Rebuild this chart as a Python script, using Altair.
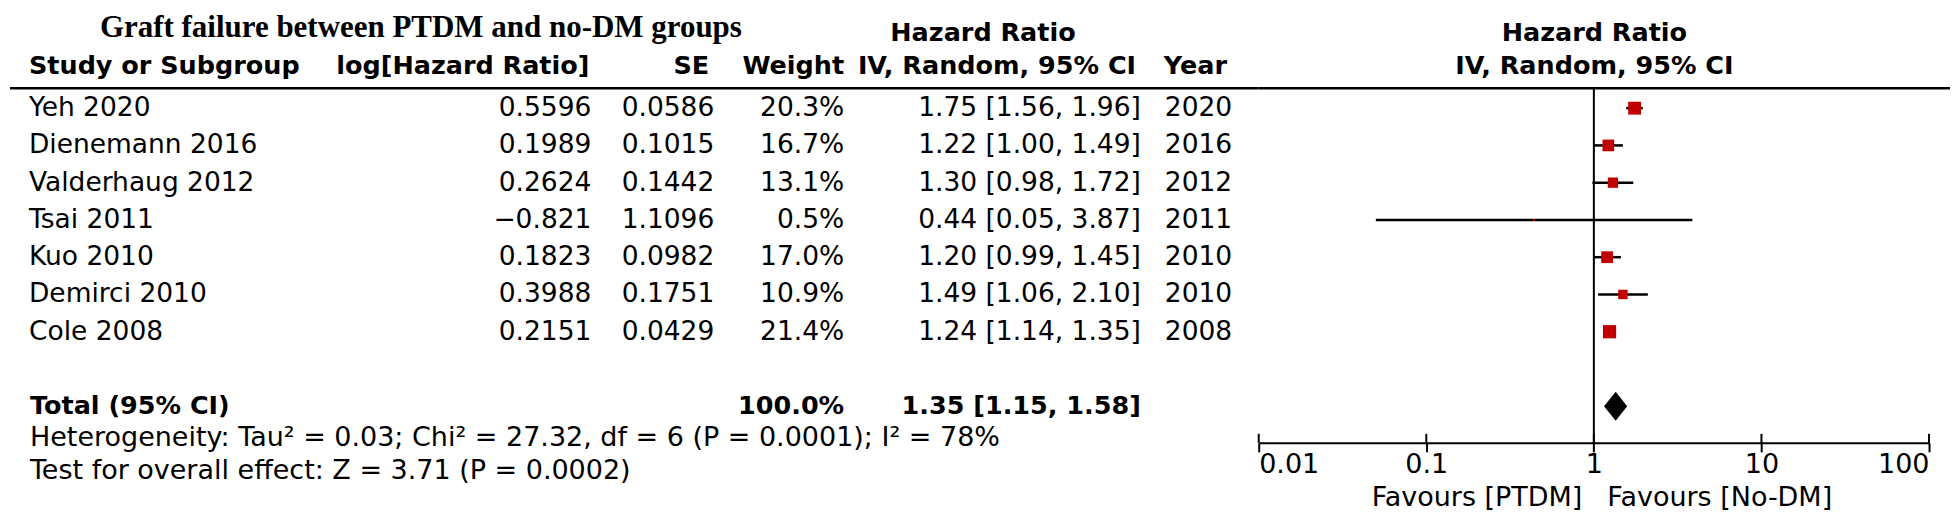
import altair as alt
import pandas as pd

# ---------------- data ----------------
studies = ["Yeh 2020", "Dienemann 2016", "Valderhaug 2012", "Tsai 2011",
           "Kuo 2010", "Demirci 2010", "Cole 2008"]
log_hr = ["0.5596", "0.1989", "0.2624", "\u22120.821", "0.1823", "0.3988", "0.2151"]
se = ["0.0586", "0.1015", "0.1442", "1.1096", "0.0982", "0.1751", "0.0429"]
weights = [20.3, 16.7, 13.1, 0.5, 17.0, 10.9, 21.4]
hr = [1.75, 1.22, 1.30, 0.44, 1.20, 1.49, 1.24]
ci_low = [1.56, 1.00, 0.98, 0.05, 0.99, 1.06, 1.14]
ci_high = [1.96, 1.49, 1.72, 3.87, 1.45, 2.10, 1.35]
years = ["2020", "2016", "2012", "2011", "2010", "2010", "2008"]
rows = [1, 2, 3, 4, 5, 6, 7]

total_row = 9
total_label = "Total (95% CI)"
total_weight = "100.0%"
total_hr = 1.35
total_low = 1.15
total_high = 1.58

title = "Graft failure between PTDM and no-DM groups"
heterogeneity = "Heterogeneity: Tau\u00b2 = 0.03; Chi\u00b2 = 27.32, df = 6 (P = 0.0001); I\u00b2 = 78%"
overall = "Test for overall effect: Z = 3.71 (P = 0.0002)"
axis_ticks = [0.01, 0.1, 1, 10, 100]
favours_left = "Favours [PTDM]"
favours_right = "Favours [No-DM]"

# ---------------- styling ----------------
FONT = "DejaVu Sans"
BODY = 26.5
HEAD = 25.5
FOOT = 27
RED = "#c00000"
LEFT_W, LEFT_H = 1250, 504
RIGHT_W, RIGHT_H = 694, 435
diamond_half = 0.39

df = pd.DataFrame({
    "row": rows, "study": studies, "log": log_hr, "se": se,
    "weight": weights,
    "wtxt": [f"{w:.1f}%" for w in weights],
    "ci": [f"{a:.2f} [{b:.2f}, {c:.2f}]" for a, b, c in zip(hr, ci_low, ci_high)],
    "year": years, "hr": hr, "lo": ci_low, "hi": ci_high,
})
tot = pd.DataFrame({
    "row": [total_row], "label": [total_label], "wtxt": [total_weight],
    "ci": [f"{total_hr:.2f} [{total_low:.2f}, {total_high:.2f}]"],
})
diamond = pd.DataFrame({
    "dx": [total_low, total_hr, total_high],
    "top": [total_row, total_row - diamond_half, total_row],
    "bot": [total_row, total_row + diamond_half, total_row],
})

ys = alt.Scale(domain=[1, 7], range=[100, 323.8], zero=False, nice=False)
xs = alt.Scale(type="log", domain=[0.01, 100], range=[0, 671], nice=False)
xaxis = alt.Axis(values=axis_ticks, format="~g", title=None, grid=False,
                 domainColor="black", domainWidth=2, tickColor="black",
                 tickWidth=2, tickSize=9, labelFont=FONT, labelFontSize=27,
                 labelColor="black", labelFlush=True, labelOverlap=False,
                 labelPadding=0)


def label(text, x, y, align="left", bold=False, size=None, font=FONT,
          baseline="middle"):
    return alt.Chart(pd.DataFrame({"t": [text]})).mark_text(
        font=font, fontSize=size or (HEAD if bold else BODY),
        fontWeight="bold" if bold else "normal", align=align,
        baseline=baseline, color="black",
    ).encode(x=alt.value(x), y=alt.value(y), text="t:N")


def column(data, field, x, align, bold=False):
    return alt.Chart(data).mark_text(
        font=FONT, fontSize=HEAD if bold else BODY,
        fontWeight="bold" if bold else "normal", align=align,
        baseline="middle", color="black",
    ).encode(x=alt.value(x), y=alt.Y("row:Q", scale=ys, axis=None),
             text=f"{field}:N")


def hline(x1, x2, y):
    return alt.Chart(pd.DataFrame({"a": [0]})).mark_rule(
        color="black", strokeWidth=2.5).encode(
        x=alt.value(x1), x2=alt.value(x2), y=alt.value(y))


# ---------------- left panel: table ----------------
left = alt.layer(
    label(title, 90, 28.5, font="Liberation Serif", bold=True, size=31,
          baseline="alphabetic"),
    label("Hazard Ratio", 974, 25, align="center", bold=True),
    label("Study or Subgroup", 19, 58, bold=True),
    label("log[Hazard Ratio]", 580, 58, align="right", bold=True),
    label("SE", 700, 58, align="right", bold=True),
    label("Weight", 835, 58, align="right", bold=True),
    label("IV, Random, 95% CI", 988, 58, align="center", bold=True),
    label("Year", 1155, 58, bold=True),
    hline(0, LEFT_W, 80),
    column(df, "study", 19, "left"),
    column(df, "log", 582, "right"),
    column(df, "se", 705, "right"),
    column(df, "wtxt", 835, "right"),
    column(df, "ci", 1132, "right"),
    column(df, "year", 1156, "left"),
    column(tot, "label", 20, "left", bold=True),
    column(tot, "wtxt", 835, "right", bold=True),
    column(tot, "ci", 1132, "right", bold=True),
    label(heterogeneity, 20, 430, size=FOOT),
    label(overall, 20, 463, size=FOOT),
).properties(width=LEFT_W, height=LEFT_H)

# ---------------- right panel: forest plot ----------------
vline = alt.Chart(pd.DataFrame({"v": [1]})).mark_rule(
    color="black", strokeWidth=2).encode(
    x=alt.X("v:Q", scale=xs, axis=xaxis), y=alt.value(80), y2=alt.value(RIGHT_H))

ci_rules = alt.Chart(df).mark_rule(color="black", strokeWidth=2.5).encode(
    x=alt.X("lo:Q", scale=xs, axis=xaxis), x2="hi:Q",
    y=alt.Y("row:Q", scale=ys, axis=None))

squares = alt.Chart(df).mark_square(color=RED, opacity=1).encode(
    x=alt.X("hr:Q", scale=xs, axis=xaxis),
    y=alt.Y("row:Q", scale=ys, axis=None),
    size=alt.Size("weight:Q", scale=alt.Scale(domain=[0, 21.4], range=[0, 175]),
                  legend=None))

dia = alt.Chart(diamond).mark_area(color="black", orient="vertical").encode(
    x=alt.X("dx:Q", scale=xs, axis=xaxis),
    y=alt.Y("top:Q", scale=ys, axis=None), y2="bot:Q")

up_ticks = alt.Chart(pd.DataFrame({"t": axis_ticks})).mark_rule(
    color="black", strokeWidth=2).encode(
    x=alt.X("t:Q", scale=xs, axis=xaxis),
    y=alt.value(RIGHT_H - 9), y2=alt.value(RIGHT_H))

right = alt.layer(
    label("Hazard Ratio", 336, 25, align="center", bold=True),
    label("IV, Random, 95% CI", 336, 58, align="center", bold=True),
    hline(0, 692, 80),
    vline, ci_rules, squares, dia, up_ticks,
    label(favours_left, 324, 490, align="right", size=FOOT),
    label(favours_right, 349, 490, align="left", size=FOOT),
).properties(width=RIGHT_W, height=RIGHT_H)

chart = alt.hconcat(left, right, spacing=0, bounds="flush").properties(
    padding=0
).configure_view(stroke=None)

chart.save("out.html", embed_options={"renderer": "svg", "actions": False})
